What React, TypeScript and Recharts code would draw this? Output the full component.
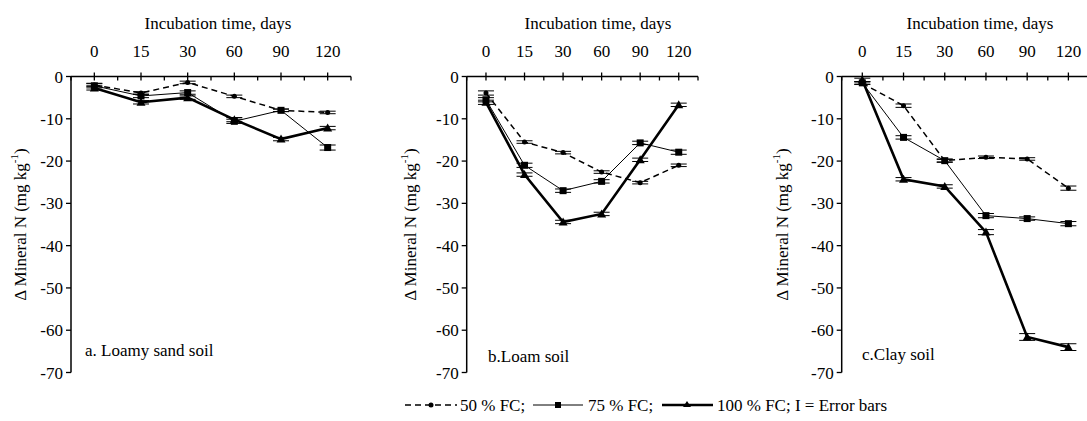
import React from "react";
import { LineChart, Line, XAxis, YAxis, ErrorBar } from "recharts";

const days = ["0", "15", "30", "60", "90", "120"];
const yTicks = [0, -10, -20, -30, -40, -50, -60, -70];

// a. Loamy sand soil
const loamySand50 = [-2.0, -3.9, -1.4, -4.7, -8.0, -8.5];
const loamySand75 = [-2.2, -4.6, -3.8, -10.6, -8.0, -16.8];
const loamySand100 = [-2.7, -6.1, -5.0, -10.2, -14.8, -12.2];
const loamySandErr50 = [0.4, 0.3, 0.3, 0.3, 0.3, 0.3];
const loamySandErr75 = [0.5, 0.4, 0.4, 0.5, 0.3, 0.6];
const loamySandErr100 = [0.5, 0.4, 0.4, 0.5, 0.4, 0.4];

// b. Loam soil
const loam50 = [-3.9, -15.5, -18.0, -22.6, -25.1, -21.0];
const loam75 = [-5.5, -21.0, -27.0, -24.8, -15.7, -17.9];
const loam100 = [-6.1, -23.2, -34.4, -32.5, -19.7, -6.7];
const loamErr50 = [0.5, 0.3, 0.3, 0.3, 0.3, 0.3];
const loamErr75 = [0.5, 0.5, 0.4, 0.4, 0.4, 0.5];
const loamErr100 = [0.5, 0.4, 0.4, 0.4, 0.4, 0.4];

// c. Clay soil
const clay50 = [-1.6, -6.9, -19.9, -19.1, -19.5, -26.4];
const clay75 = [-1.5, -14.4, -19.9, -32.9, -33.6, -34.8];
const clay100 = [-0.8, -24.3, -26.0, -36.8, -61.6, -64.0];
const clayErr50 = [0.3, 0.4, 0.3, 0.3, 0.3, 0.5];
const clayErr75 = [0.3, 0.4, 0.4, 0.5, 0.4, 0.5];
const clayErr100 = [0.4, 0.4, 0.4, 0.6, 0.8, 0.8];

const FONT = "'Liberation Serif', 'DejaVu Serif', serif";

function build(v50: number[], v75: number[], v100: number[], e50: number[], e75: number[], e100: number[]) {
  return days.map((day, i) => ({
    day,
    v50: v50[i],
    v75: v75[i],
    v100: v100[i],
    e50: e50[i],
    e75: e75[i],
    e100: e100[i],
  }));
}

const Circle = (p: any) => <circle key={p.index} cx={p.cx} cy={p.cy} r={2.5} fill="#000" />;
const Square = (p: any) => <rect key={p.index} x={p.cx - 3.5} y={p.cy - 3.5} width={7} height={7} fill="#000" />;
const Tri = (p: any) => (
  <polygon key={p.index} points={`${p.cx},${p.cy - 4.5} ${p.cx - 4.5},${p.cy + 3.5} ${p.cx + 4.5},${p.cy + 3.5}`} fill="#000" />
);

function Panel({
  data,
  left,
  width,
  plotLeft,
  plotRight,
  titleX,
  yLabelX,
  label,
  labelX,
  labelY,
}: any) {
  const top = 76.5;
  const bottom = 372.5;
  const band = (plotRight - plotLeft) / days.length;
  const yAxisW = 40;

  const TopTick = (props: any) => {
    const x = props.x;
    return (
      <g>
        <line x1={x} x2={x} y1={top - 4} y2={top + 4} stroke="#000" strokeWidth={1.3} />
        <line x1={x - band / 2} x2={x - band / 2} y1={top} y2={top + 4} stroke="#000" strokeWidth={1.3} />
        {props.index === days.length - 1 && (
          <line x1={x + band / 2} x2={x + band / 2} y1={top} y2={top + 4} stroke="#000" strokeWidth={1.3} />
        )}
        <text x={x} y={57} textAnchor="middle" fontSize={17} fill="#000" fontFamily={FONT}>
          {props.payload.value}
        </text>
      </g>
    );
  };

  return (
    <div style={{ position: "absolute", left, top: 0 }}>
      <LineChart
        width={width}
        height={421}
        data={data}
        margin={{ top: top - 30, bottom: 421 - bottom, left: plotLeft - left - yAxisW, right: left + width - plotRight }}
        style={{ fontFamily: FONT }}
      >
        <XAxis
          dataKey="day"
          orientation="top"
          height={30}
          interval={0}
          padding={{ left: band / 2, right: band / 2 }}
          tickLine={false}
          axisLine={{ stroke: "#000", strokeWidth: 1.5 }}
          tick={TopTick}
          label={{
            content: () => (
              <text x={titleX - left} y={29} textAnchor="middle" fontSize={17} fill="#000" fontFamily={FONT}>
                Incubation time, days
              </text>
            ),
          }}
        />
        <YAxis
          type="number"
          domain={[-70, 0]}
          ticks={yTicks}
          interval={0}
          width={yAxisW}
          tickSize={5}
          tickMargin={3}
          axisLine={{ stroke: "#000", strokeWidth: 1.5 }}
          tickLine={{ stroke: "#000", strokeWidth: 1.3 }}
          tick={{ fill: "#000", fontSize: 17, fontFamily: FONT }}
          label={{
            content: () => (
              <g>
                <text
                  x={yLabelX - left}
                  y={(top + bottom) / 2}
                  transform={`rotate(-90 ${yLabelX - left} ${(top + bottom) / 2})`}
                  textAnchor="middle"
                  dominantBaseline="central"
                  fontSize={17}
                  fill="#000"
                  fontFamily={FONT}
                >
                  Δ Mineral N (mg kg
                  <tspan dy={-6} fontSize={11}>-1</tspan>
                  <tspan dy={6}>)</tspan>
                </text>
                <text x={labelX - left} y={labelY} fontSize={17} fill="#000" fontFamily={FONT}>
                  {label}
                </text>
              </g>
            ),
          }}
        />
        <Line
          dataKey="v50"
          stroke="#000"
          strokeWidth={1.5}
          strokeDasharray="6 4"
          dot={Circle}
          isAnimationActive={false}
        >
          <ErrorBar dataKey="e50" width={8} stroke="#000" strokeWidth={1} direction="y" />
        </Line>
        <Line dataKey="v75" stroke="#000" strokeWidth={1} dot={Square} isAnimationActive={false}>
          <ErrorBar dataKey="e75" width={8} stroke="#000" strokeWidth={1} direction="y" />
        </Line>
        <Line dataKey="v100" stroke="#000" strokeWidth={2.6} dot={Tri} isAnimationActive={false}>
          <ErrorBar dataKey="e100" width={8} stroke="#000" strokeWidth={1} direction="y" />
        </Line>
      </LineChart>
    </div>
  );
}

export default function App() {
  const loamySandData = build(loamySand50, loamySand75, loamySand100, loamySandErr50, loamySandErr75, loamySandErr100);
  const loamData = build(loam50, loam75, loam100, loamErr50, loamErr75, loamErr100);
  const clayData = build(clay50, clay75, clay100, clayErr50, clayErr75, clayErr100);

  return (
    <div
      style={{
        position: "absolute",
        left: 0,
        top: 0,
        width: 1087,
        height: 421,
        overflow: "hidden",
        background: "#fff",
        fontFamily: FONT,
      }}
    >
      <Panel
        data={loamySandData}
        left={0}
        width={360}
        plotLeft={71}
        plotRight={351}
        titleX={218}
        yLabelX={20}
        label="a. Loamy sand soil"
        labelX={85}
        labelY={356}
      />
      <Panel
        data={loamData}
        left={360}
        width={360}
        plotLeft={466.7}
        plotRight={698}
        titleX={598}
        yLabelX={410}
        label="b.Loam soil"
        labelX={488}
        labelY={362}
      />
      <Panel
        data={clayData}
        left={720}
        width={370}
        plotLeft={841.7}
        plotRight={1089}
        titleX={980}
        yLabelX={782}
        label="c.Clay soil"
        labelX={862}
        labelY={360}
      />
      <svg width={1087} height={421} style={{ position: "absolute", left: 0, top: 0, pointerEvents: "none" }}>
        <line x1={405} x2={457} y1={405} y2={405} stroke="#000" strokeWidth={1.5} strokeDasharray="6 4" />
        <circle cx={431} cy={405} r={2.5} fill="#000" />
        <text x={460} y={411} fontSize={17} fill="#000" fontFamily={FONT}>50 % FC;</text>
        <line x1={533} x2={583} y1={405} y2={405} stroke="#000" strokeWidth={1} />
        <rect x={555} y={402} width={6} height={6} fill="#000" />
        <text x={588} y={411} fontSize={17} fill="#000" fontFamily={FONT}>75 % FC;</text>
        <line x1={662} x2={713} y1={405} y2={405} stroke="#000" strokeWidth={2.6} />
        <polygon points="687,401 683,407 691,407" fill="#000" />
        <text x={717} y={411} fontSize={17} fill="#000" fontFamily={FONT}>100 % FC; I = Error bars</text>
      </svg>
    </div>
  );
}
